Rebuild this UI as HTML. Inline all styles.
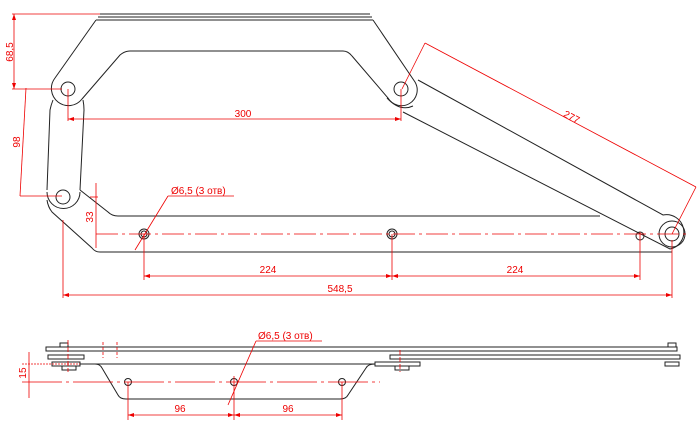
<!DOCTYPE html>
<html><head><meta charset="utf-8"><style>
html,body{margin:0;padding:0;background:#fff;width:700px;height:432px;overflow:hidden}
svg{display:block}
text{font-family:"Liberation Sans",sans-serif;font-size:10px;fill:#e00}
</style></head><body>
<svg width="700" height="432" viewBox="0 0 700 432" xmlns="http://www.w3.org/2000/svg">
<g fill="none" stroke="#222" stroke-width="1">
<!-- top link -->
<line x1="100" y1="14" x2="370" y2="14"/>
<line x1="98" y1="17" x2="372" y2="17"/>
<line x1="96" y1="20" x2="373" y2="20"/>
<path d="M96 20 L55 78 A16 16 0 0 0 82 99 L120 55 Q125 51 130 51 L343 51 Q348 51 352 56 L388 98 A15 15 0 0 0 415 82 L373 20"/>
<circle cx="68" cy="89" r="7"/>
<circle cx="401" cy="89" r="7"/>
<!-- vertical link -->
<path d="M53 100 Q51 105 50 110 L47 190 M83 100 Q84 105 84 110 L80 190"/>
<!-- bottom plate -->
<path d="M47 192 A16 16 0 0 0 80 192"/>
<path d="M47 200 Q48 207 52 212 L92 248 Q95 252 100 252 L672 252"/>
<path d="M80 190 L108 212 Q112 216 118 216 L600 216"/>
<circle cx="63" cy="197" r="7"/>
<!-- diagonal link -->
<path d="M418 80 L663 215 A14 14 0 0 1 670 249 L403 112"/>
<path d="M387 98 Q400 112 413 106"/>
<circle cx="672" cy="234" r="7"/>
<circle cx="672" cy="234" r="13"/>
<circle cx="144" cy="234" r="5"/><circle cx="144" cy="234" r="3"/>
<circle cx="392" cy="234" r="5"/><circle cx="392" cy="234" r="3"/>
<circle cx="640" cy="236" r="4"/>
<!-- bottom view -->
<rect x="46" y="347" width="631" height="4"/>
<rect x="48" y="355" width="36" height="4"/>
<rect x="390" y="355" width="290" height="4"/>
<rect x="52" y="362" width="28" height="4"/>
<rect x="375" y="362" width="45" height="4"/>
<rect x="62" y="366" width="14" height="4"/>
<rect x="395" y="366" width="14" height="4"/>
<rect x="665" y="362" width="14" height="4"/>
<rect x="60" y="343" width="8" height="4"/>
<rect x="668" y="343" width="8" height="4"/>
<path d="M80 364 L375 364 M95 364 Q100 364 102 368 L118 395 Q120 399 126 399 L340 399 Q346 399 348 395 L366 368 Q368 364 375 364"/>
<circle cx="128" cy="382" r="3.5"/>
<circle cx="234" cy="382" r="3.5"/>
<circle cx="342" cy="382" r="3.5"/>
</g>
<g fill="none" stroke="#e00" stroke-width="0.8">
<!-- 68,5 -->
<line x1="12" y1="14" x2="100" y2="14"/><line x1="12" y1="89" x2="62" y2="89"/>
<line x1="14" y1="14" x2="14" y2="89"/>
<!-- 98 -->
<line x1="26" y1="88" x2="20" y2="196"/><line x1="20" y1="196" x2="62" y2="196"/>
<!-- 300 -->
<line x1="68" y1="89" x2="68" y2="121"/><line x1="401" y1="89" x2="401" y2="121"/>
<line x1="68" y1="119" x2="401" y2="119"/>
<!-- 277 -->
<line x1="425" y1="43" x2="402" y2="89"/><line x1="425" y1="43" x2="696" y2="187"/>
<line x1="696" y1="187" x2="672" y2="234"/>
<!-- 33 -->
<line x1="96" y1="183" x2="96" y2="248"/><line x1="90" y1="197" x2="98" y2="197"/>
<!-- centerline -->
<line x1="96" y1="234" x2="690" y2="234" stroke-dasharray="22 4 3 4"/>
<!-- holes verticals -->
<line x1="144" y1="234" x2="144" y2="280"/><line x1="392" y1="234" x2="392" y2="280"/><line x1="640" y1="232" x2="640" y2="280"/>
<line x1="144" y1="276" x2="640" y2="276"/>
<line x1="63" y1="220" x2="63" y2="298"/><line x1="672" y1="240" x2="672" y2="298"/>
<line x1="63" y1="295" x2="672" y2="295"/>
<!-- leader -->
<line x1="168" y1="196" x2="234" y2="196"/><line x1="168" y1="196" x2="135" y2="250"/>
<!-- bottom dims -->
<line x1="22" y1="364" x2="80" y2="364" stroke-dasharray="2 1"/>
<line x1="29" y1="352" x2="29" y2="398"/><line x1="22" y1="382" x2="380" y2="382" stroke-dasharray="40 4 3 4"/>
<line x1="128" y1="382" x2="128" y2="420"/><line x1="234" y1="376" x2="234" y2="420"/><line x1="342" y1="382" x2="342" y2="420"/>
<line x1="128" y1="415" x2="342" y2="415"/>
<line x1="256" y1="341" x2="322" y2="341"/><line x1="256" y1="341" x2="228" y2="405"/>
<line x1="103" y1="342" x2="103" y2="358" stroke-dasharray="3 2"/><line x1="117" y1="342" x2="117" y2="358" stroke-dasharray="3 2"/>
<line x1="68" y1="340" x2="68" y2="372" stroke-dasharray="5 2"/><line x1="400" y1="350" x2="400" y2="372" stroke-dasharray="5 2"/>
</g>
<g fill="#e00">
<path d="M14 14 l-2 6 h4z M14 89 l-2 -6 h4z"/>
<path d="M68 119 l6 -2 v4z M401 119 l-6 -2 v4z"/>
<path d="M144 276 l6 -2 v4z M392 276 l-6 -2 v4z M392 276 l6 -2 v4z M640 276 l-6 -2 v4z"/>
<path d="M63 295 l6 -2 v4z M672 295 l-6 -2 v4z"/>
<path d="M128 415 l6 -2 v4z M234 415 l-6 -2 v4z M234 415 l6 -2 v4z M342 415 l-6 -2 v4z"/>
</g>
<text x="13" y="52" transform="rotate(-90 13 52)" text-anchor="middle">68,5</text>
<text x="20" y="142" transform="rotate(-90 20 142)" text-anchor="middle">98</text>
<text x="243" y="117" text-anchor="middle">300</text>
<text x="570" y="120" transform="rotate(28 570 120)" text-anchor="middle">277</text>
<text x="93" y="217" transform="rotate(-90 93 217)" text-anchor="middle">33</text>
<text x="171" y="194">Ø6,5 (3 отв)</text>
<text x="268" y="273" text-anchor="middle">224</text>
<text x="515" y="273" text-anchor="middle">224</text>
<text x="340" y="292" text-anchor="middle">548,5</text>
<text x="26" y="373" transform="rotate(-90 26 373)" text-anchor="middle">15</text>
<text x="258" y="339">Ø6,5 (3 отв)</text>
<text x="180" y="412" text-anchor="middle">96</text>
<text x="288" y="412" text-anchor="middle">96</text>
</svg>
</body></html>
